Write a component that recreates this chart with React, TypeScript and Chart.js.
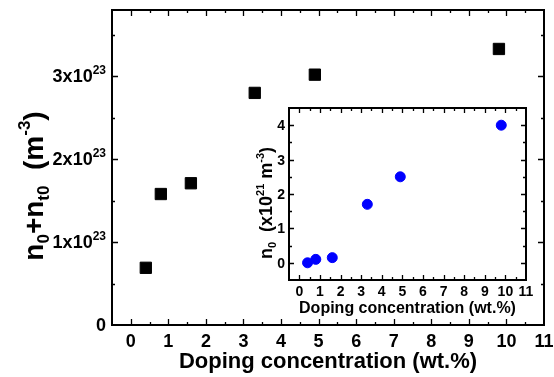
import React, { useEffect, useRef } from 'react';
import { Chart, registerables } from 'chart.js';

Chart.register(...registerables);

// ---- data ----
const doping: number[] = [0.4, 0.8, 1.6, 3.3, 4.9, 9.8];
const totalDensity: number[] = [0.69e23, 1.58e23, 1.71e23, 2.8e23, 3.02e23, 3.33e23];
const insetDoping: number[] = [0.4, 0.8, 1.6, 3.3, 4.9, 9.8];
const freeDensity: number[] = [0, 0.1, 0.15, 1.7, 2.5, 4.0];

const xTickValues: number[] = [0, 1, 2, 3, 4, 5, 6, 7, 8, 9, 10, 11];
const xTickLabels: string[] = ['0', '1', '2', '3', '4', '5', '6', '7', '8', '9', '10', '11'];
const mainYTickValues: number[] = [0, 1e23, 2e23, 3e23];
const mainYTickMantissa: string[] = ['0', '1x10', '2x10', '3x10'];
const mainYTickExponent: string[] = ['', '23', '23', '23'];
const insetYTickValues: number[] = [0, 1, 2, 3, 4];
const insetYTickLabels: string[] = ['0', '1', '2', '3', '4'];

const FONT = '"Liberation Sans", Arial, Helvetica, sans-serif';

type Seg = { t: string; s: number; dy: number };

function richWidth(ctx: CanvasRenderingContext2D, segs: Seg[]) {
  let w = 0;
  for (const g of segs) {
    ctx.font = `bold ${g.s}px ${FONT}`;
    w += ctx.measureText(g.t).width;
  }
  return w;
}

function drawRich(ctx: CanvasRenderingContext2D, segs: Seg[], x: number, y: number, align: 'left' | 'center' | 'right') {
  const w = richWidth(ctx, segs);
  let cx = align === 'left' ? x : align === 'center' ? x - w / 2 : x - w;
  ctx.textAlign = 'left';
  ctx.textBaseline = 'alphabetic';
  for (const g of segs) {
    ctx.font = `bold ${g.s}px ${FONT}`;
    ctx.fillText(g.t, cx, y + g.dy);
    cx += ctx.measureText(g.t).width;
  }
}

type FrameOpts = {
  lineWidth: number;
  major: number;
  minor: number;
  xMin: number; xMax: number; xMajor: number; xMinor: number;
  yMin: number; yMax: number; yMajor: number; yMinor: number;
};

function drawFrame(chart: any, o: FrameOpts) {
  const { ctx, chartArea: a, scales } = chart;
  const xs = scales.x;
  const ys = scales.y;
  ctx.save();
  ctx.strokeStyle = '#000';
  ctx.lineWidth = o.lineWidth;
  ctx.strokeRect(a.left, a.top, a.right - a.left, a.bottom - a.top);
  ctx.lineWidth = 1.3;
  ctx.beginPath();
  const nx = Math.round((o.xMax - o.xMin) / o.xMinor);
  for (let i = 1; i < nx; i++) {
    const v = o.xMin + i * o.xMinor;
    const isMajor = Math.abs(v / o.xMajor - Math.round(v / o.xMajor)) < 1e-6;
    const len = isMajor ? o.major : o.minor;
    const px = Math.round(xs.getPixelForValue(v)) + 0.5;
    ctx.moveTo(px, a.bottom);
    ctx.lineTo(px, a.bottom - len);
    ctx.moveTo(px, a.top);
    ctx.lineTo(px, a.top + len);
  }
  const ny = Math.round((o.yMax - o.yMin) / o.yMinor);
  for (let i = 1; i < ny; i++) {
    const v = o.yMin + i * o.yMinor;
    const isMajor = Math.abs(v / o.yMajor - Math.round(v / o.yMajor)) < 1e-6;
    const len = isMajor ? o.major : o.minor;
    const py = Math.round(ys.getPixelForValue(v)) + 0.5;
    ctx.moveTo(a.left, py);
    ctx.lineTo(a.left + len, py);
    ctx.moveTo(a.right, py);
    ctx.lineTo(a.right - len, py);
  }
  ctx.stroke();
  ctx.restore();
}

const mainDecor = {
  id: 'mainDecor',
  afterDraw(chart: any) {
    const { ctx, chartArea: a, scales } = chart;
    drawFrame(chart, {
      lineWidth: 2, major: 6, minor: 3,
      xMin: -0.5, xMax: 11, xMajor: 1, xMinor: 0.5,
      yMin: 0, yMax: 3.8e23, yMajor: 1e23, yMinor: 0.5e23,
    });
    ctx.save();
    ctx.fillStyle = '#000';
    // x tick labels
    xTickValues.forEach((v, i) => {
      ctx.font = `bold 18px ${FONT}`;
      ctx.textAlign = 'center';
      ctx.textBaseline = 'alphabetic';
      ctx.fillText(xTickLabels[i], scales.x.getPixelForValue(v), a.bottom + 22);
    });
    // y tick labels
    mainYTickValues.forEach((v, i) => {
      const py = scales.y.getPixelForValue(v);
      const segs: Seg[] = [{ t: mainYTickMantissa[i], s: 18, dy: 0 }];
      if (mainYTickExponent[i]) segs.push({ t: mainYTickExponent[i], s: 12, dy: -8 });
      drawRich(ctx, segs, a.left - 6, py + 6, 'right');
    });
    // x title
    drawRich(ctx, [{ t: 'Doping concentration (wt.%)', s: 22, dy: 0 }], (a.left + a.right) / 2, a.bottom + 43, 'center');
    // y title
    ctx.save();
    ctx.translate(43, 186);
    ctx.rotate(-Math.PI / 2);
    drawRich(ctx, [
      { t: 'n', s: 28, dy: 0 },
      { t: '0', s: 17, dy: 6 },
      { t: '+n', s: 28, dy: 0 },
      { t: 't0', s: 17, dy: 6 },
      { t: '  (m', s: 28, dy: 0 },
      { t: '-3', s: 17, dy: -13 },
      { t: ')', s: 28, dy: 0 },
    ], 0, 0, 'center');
    ctx.restore();
    ctx.restore();
  },
};

const insetDecor = {
  id: 'insetDecor',
  afterDraw(chart: any) {
    const { ctx, chartArea: a, scales } = chart;
    drawFrame(chart, {
      lineWidth: 2, major: 5, minor: 3,
      xMin: -0.5, xMax: 11, xMajor: 1, xMinor: 0.5,
      yMin: -0.5, yMax: 4.5, yMajor: 1, yMinor: 0.5,
    });
    ctx.save();
    ctx.fillStyle = '#000';
    xTickValues.forEach((v, i) => {
      ctx.font = `bold 14px ${FONT}`;
      ctx.textAlign = 'center';
      ctx.textBaseline = 'alphabetic';
      ctx.fillText(xTickLabels[i], scales.x.getPixelForValue(v), a.bottom + 16);
    });
    insetYTickValues.forEach((v, i) => {
      ctx.font = `bold 14px ${FONT}`;
      ctx.textAlign = 'right';
      ctx.textBaseline = 'alphabetic';
      ctx.fillText(insetYTickLabels[i], a.left - 4, scales.y.getPixelForValue(v) + 5);
    });
    drawRich(ctx, [{ t: 'Doping concentration (wt.%)', s: 16, dy: 0 }], (a.left + a.right) / 2, a.bottom + 33, 'center');
    ctx.save();
    ctx.translate(a.left - 17, (a.top + a.bottom) / 2 + 9);
    ctx.rotate(-Math.PI / 2);
    drawRich(ctx, [
      { t: 'n', s: 18, dy: 0 },
      { t: '0', s: 11, dy: 4 },
      { t: '  (x10', s: 18, dy: 0 },
      { t: '21', s: 11, dy: -8 },
      { t: ' m', s: 18, dy: 0 },
      { t: '-3', s: 11, dy: -8 },
      { t: ')', s: 18, dy: 0 },
    ], 0, 0, 'center');
    ctx.restore();
    ctx.restore();
  },
};

function hiddenScale(min: number, max: number) {
  return {
    type: 'linear' as const,
    min,
    max,
    display: true,
    grid: { display: false, drawTicks: false },
    border: { display: false },
    ticks: { display: false },
    title: { display: false },
  };
}

export default function App() {
  const mainRef = useRef<HTMLCanvasElement | null>(null);
  const insetRef = useRef<HTMLCanvasElement | null>(null);

  useEffect(() => {
    document.body.style.margin = '0';
    const main = new Chart(mainRef.current as HTMLCanvasElement, {
      type: 'scatter',
      data: {
        datasets: [{
          data: doping.map((x, i) => ({ x, y: totalDensity[i] })),
          pointStyle: 'rect',
          pointRadius: 8,
          pointHoverRadius: 8,
          backgroundColor: '#000',
          borderColor: '#000',
          borderWidth: 1,
        }],
      },
      options: {
        animation: false,
        responsive: false,
        maintainAspectRatio: false,
        devicePixelRatio: 1,
        events: [],
        layout: { padding: { left: 112, right: 10, top: 10, bottom: 52 } },
        plugins: { legend: { display: false }, tooltip: { enabled: false } },
        scales: { x: hiddenScale(-0.5, 11), y: hiddenScale(0, 3.8e23) },
      },
      plugins: [mainDecor],
    });
    const inset = new Chart(insetRef.current as HTMLCanvasElement, {
      type: 'scatter',
      data: {
        datasets: [{
          data: insetDoping.map((x, i) => ({ x, y: freeDensity[i] })),
          pointStyle: 'circle',
          pointRadius: 5,
          pointHoverRadius: 5,
          backgroundColor: '#0000ff',
          borderColor: '#0000ff',
          borderWidth: 1,
        }],
      },
      options: {
        animation: false,
        responsive: false,
        maintainAspectRatio: false,
        devicePixelRatio: 1,
        events: [],
        layout: { padding: { left: 34, right: 14, top: 8, bottom: 38 } },
        plugins: { legend: { display: false }, tooltip: { enabled: false } },
        scales: { x: hiddenScale(-0.5, 11), y: hiddenScale(-0.5, 4.5) },
      },
      plugins: [insetDecor],
    });
    return () => {
      main.destroy();
      inset.destroy();
    };
  }, []);

  return (
    <div style={{ position: 'absolute', left: 0, top: 0, width: 554, height: 377, background: '#fff' }}>
      <canvas ref={mainRef} width={554} height={377}
        style={{ position: 'absolute', left: 0, top: 0, width: 554, height: 377 }} />
      <canvas ref={insetRef} width={285} height={218}
        style={{ position: 'absolute', left: 255, top: 100, width: 285, height: 218 }} />
    </div>
  );
}
